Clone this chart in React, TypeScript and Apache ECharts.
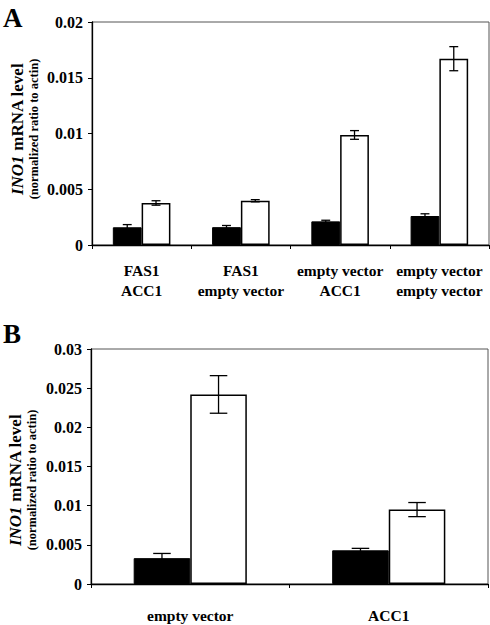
import React, { useEffect, useRef } from "react";
import * as echarts from "echarts";

const categoriesA = ["FAS1\nACC1", "FAS1\nempty vector", "empty vector\nACC1", "empty vector\nempty vector"];
const blackA = [0.00159, 0.0016, 0.00212, 0.0026];
const blackErrA = [0.00024, 0.00015, 0.0001, 0.0002];
const whiteA = [0.00377, 0.00397, 0.00987, 0.01671];
const whiteErrA = [0.0002, 0.0001, 0.00039, 0.00108];

const categoriesB = ["empty vector", "ACC1"];
const blackB = [0.0033, 0.0043];
const blackErrB = [0.0006, 0.00025];
const whiteB = [0.0242, 0.0095];
const whiteErrB = [0.0024, 0.0009];

const yMaxA = 0.02;
const yMaxB = 0.03;
const yInterval = 0.005;

const FONT = "'Liberation Serif', 'Times New Roman', serif";
const GAP_A = 0.42;
const GAP_B = 0.43;

function errorRenderer(gap: number, sign: number) {
  return (params: any, api: any) => {
    const x = api.value(0);
    const v = api.value(1);
    const e = api.value(2);
    const hi = api.coord([x, v + e]);
    const lo = api.coord([x, v - e]);
    const bandW = api.size([1, 0])[0];
    const barW = (bandW * (1 - gap)) / 2;
    const cx = hi[0] + (sign * barW) / 2;
    const cap = barW * 0.31;
    const style = { stroke: "#000", lineWidth: 1.3 };
    return {
      type: "group",
      children: [
        { type: "line", shape: { x1: cx, y1: hi[1], x2: cx, y2: lo[1] }, style },
        { type: "line", shape: { x1: cx - cap / 2, y1: hi[1], x2: cx + cap / 2, y2: hi[1] }, style },
        { type: "line", shape: { x1: cx - cap / 2, y1: lo[1], x2: cx + cap / 2, y2: lo[1] }, style },
      ],
    };
  };
}

function yAxisCfg(gridIndex: number, max: number) {
  return {
    type: "value",
    gridIndex,
    min: 0,
    max,
    interval: yInterval,
    axisLine: { show: true, lineStyle: { color: "#000", width: 1.3 } },
    axisTick: { show: true, length: 4, lineStyle: { color: "#000" } },
    splitLine: { show: false },
    axisLabel: {
      color: "#000",
      fontFamily: FONT,
      fontWeight: "bold",
      fontSize: 16,
      margin: 9,
    },
  };
}

function xAxisCfg(gridIndex: number, data: string[], margin: number) {
  return {
    type: "category",
    gridIndex,
    data,
    axisLine: { show: true, lineStyle: { color: "#000", width: 1.3 } },
    axisTick: { show: true, length: 4, lineStyle: { color: "#000" } },
    axisLabel: {
      color: "#000",
      fontFamily: FONT,
      fontWeight: "bold",
      fontSize: 15.5,
      lineHeight: 20,
      margin,
      interval: 0,
    },
  };
}

function titleText(x: number, y: number) {
  return {
    type: "text",
    x,
    y,
    rotation: Math.PI / 2,
    style: {
      text: "{i|INO1}{b| mRNA level}\n{s|(normalized ratio to actin)}",
      align: "center",
      verticalAlign: "middle",
      fill: "#000",
      rich: {
        i: { fontFamily: FONT, fontWeight: "bold", fontStyle: "italic", fontSize: 17, lineHeight: 18, fill: "#000" },
        b: { fontFamily: FONT, fontWeight: "bold", fontSize: 17, lineHeight: 18, fill: "#000" },
        s: { fontFamily: FONT, fontWeight: "bold", fontSize: 12.5, lineHeight: 15, fill: "#000" },
      },
    },
  };
}

export default function App() {
  const ref = useRef<HTMLDivElement>(null);
  useEffect(() => {
    if (!ref.current) return;
    const chart = echarts.init(ref.current, null, { renderer: "svg" });
    const option: any = {
      animation: false,
      backgroundColor: "#fff",
      grid: [
        { left: 92, top: 22, width: 397, height: 223, show: true, borderColor: "#555", borderWidth: 1, containLabel: false },
        { left: 91, top: 349, width: 397, height: 243, show: true, borderColor: "#555", borderWidth: 1, containLabel: false },
      ],
      xAxis: [xAxisCfg(0, categoriesA, 15), xAxisCfg(1, categoriesB, 21)],
      yAxis: [yAxisCfg(0, yMaxA), yAxisCfg(1, yMaxB)],
      graphic: [
        { type: "text", left: 3, top: 4, style: { text: "A", fontFamily: FONT, fontWeight: "bold", fontSize: 27, fill: "#000" } },
        { type: "text", left: 3, top: 320, style: { text: "B", fontFamily: FONT, fontWeight: "bold", fontSize: 27, fill: "#000" } },
        titleText(25, 129),
        titleText(23, 480),
      ],
      series: [
        {
          type: "bar", xAxisIndex: 0, yAxisIndex: 0, data: blackA, barGap: "0%", barCategoryGap: GAP_A * 100 + "%",
          itemStyle: { color: "#000", borderColor: "#000", borderWidth: 1 },
        },
        {
          type: "bar", xAxisIndex: 0, yAxisIndex: 0, data: whiteA, barGap: "0%", barCategoryGap: GAP_A * 100 + "%",
          itemStyle: { color: "#fff", borderColor: "#000", borderWidth: 1.5 },
        },
        {
          type: "custom", xAxisIndex: 0, yAxisIndex: 0, z: 5,
          data: blackA.map((v, i) => [i, v, blackErrA[i]]),
          renderItem: errorRenderer(GAP_A, -1),
        },
        {
          type: "custom", xAxisIndex: 0, yAxisIndex: 0, z: 5,
          data: whiteA.map((v, i) => [i, v, whiteErrA[i]]),
          renderItem: errorRenderer(GAP_A, 1),
        },
        {
          type: "bar", xAxisIndex: 1, yAxisIndex: 1, data: blackB, barGap: "0%", barCategoryGap: GAP_B * 100 + "%",
          itemStyle: { color: "#000", borderColor: "#000", borderWidth: 1 },
        },
        {
          type: "bar", xAxisIndex: 1, yAxisIndex: 1, data: whiteB, barGap: "0%", barCategoryGap: GAP_B * 100 + "%",
          itemStyle: { color: "#fff", borderColor: "#000", borderWidth: 1.5 },
        },
        {
          type: "custom", xAxisIndex: 1, yAxisIndex: 1, z: 5,
          data: blackB.map((v, i) => [i, v, blackErrB[i]]),
          renderItem: errorRenderer(GAP_B, -1),
        },
        {
          type: "custom", xAxisIndex: 1, yAxisIndex: 1, z: 5,
          data: whiteB.map((v, i) => [i, v, whiteErrB[i]]),
          renderItem: errorRenderer(GAP_B, 1),
        },
      ],
    };
    chart.setOption(option);
    return () => chart.dispose();
  }, []);
  return (
    <div
      ref={ref}
      style={{ position: "absolute", left: 0, top: 0, width: 490, height: 625, background: "#fff" }}
    />
  );
}
